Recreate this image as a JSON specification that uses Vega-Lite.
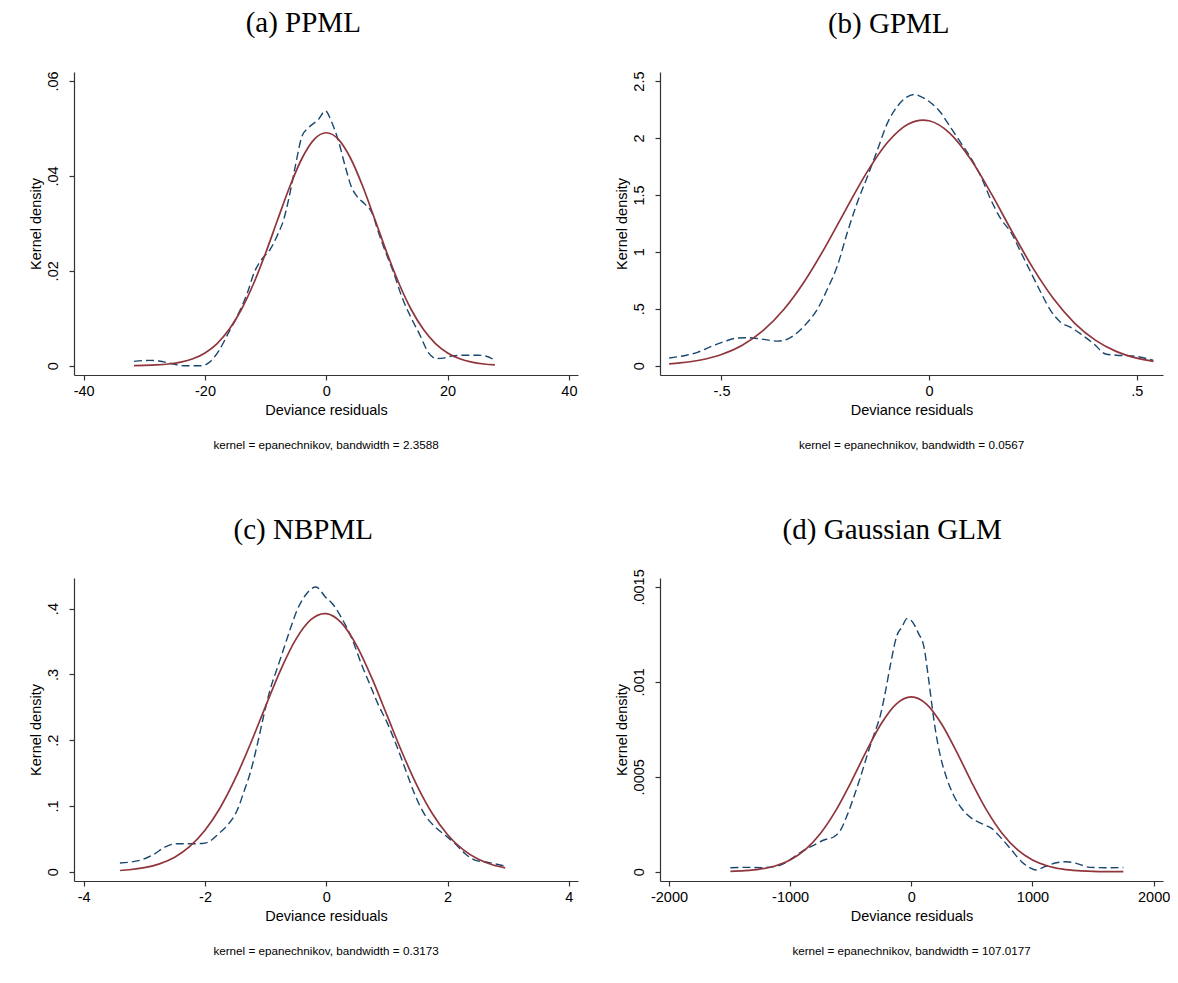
{
  "$schema": "https://vega.github.io/schema/vega-lite/v6.json",
  "background": "white",
  "padding": {"left": 28, "top": 8, "right": 0, "bottom": 0},
  "config": {
    "view": {"stroke": null},
    "axis": {"grid": false, "labelFont": "Liberation Sans", "titleFont": "Liberation Sans", "labelFontSize": 14.5, "titleFontSize": 14.5, "titleFontWeight": "normal", "labelColor": "#000", "titleColor": "#000", "domainColor": "#333", "tickColor": "#333", "tickSize": 5, "domainWidth": 1.2, "tickWidth": 1.2, "labelExpr": "replace(toString(datum.value), '0.', '.')"},
    "axisX": {"labelPadding": 4, "titlePadding": 5.5},
    "axisY": {"labelAngle": 270, "labelPadding": 9, "titlePadding": 1.5},
    "title": {"fontWeight": "normal", "color": "#000"}
  },
  "datasets": {
    "a": [
      {"x":-31.7,"y":0.00091,"s":"k"},{"x":-29.2,"y":0.00112,"s":"k"},{"x":-27.6,"y":0.00098,"s":"k"},{"x":-25.4,"y":0.00042,"s":"k"},{"x":-23.5,"y":0.0,"s":"k"},{"x":-20.4,"y":0.0,"s":"k"},{"x":-19.3,"y":0.0007,"s":"k"},{"x":-17.7,"y":0.0032,"s":"k"},{"x":-16.1,"y":0.007,"s":"k"},{"x":-14.4,"y":0.0112,"s":"k"},{"x":-13.0,"y":0.0154,"s":"k"},{"x":-11.9,"y":0.0196,"s":"k"},{"x":-10.6,"y":0.0225,"s":"k"},{"x":-9.2,"y":0.0246,"s":"k"},{"x":-8.1,"y":0.0274,"s":"k"},{"x":-7.0,"y":0.0309,"s":"k"},{"x":-6.2,"y":0.0351,"s":"k"},{"x":-5.1,"y":0.0421,"s":"k"},{"x":-4.0,"y":0.0484,"s":"k"},{"x":-2.9,"y":0.0502,"s":"k"},{"x":-1.3,"y":0.0519,"s":"k"},{"x":-0.16,"y":0.0537,"s":"k"},{"x":0.93,"y":0.0512,"s":"k"},{"x":2.0,"y":0.0474,"s":"k"},{"x":3.1,"y":0.0421,"s":"k"},{"x":4.2,"y":0.0375,"s":"k"},{"x":5.0,"y":0.0358,"s":"k"},{"x":6.4,"y":0.034,"s":"k"},{"x":7.5,"y":0.0323,"s":"k"},{"x":8.6,"y":0.0281,"s":"k"},{"x":10.0,"y":0.0232,"s":"k"},{"x":11.1,"y":0.0196,"s":"k"},{"x":12.4,"y":0.0147,"s":"k"},{"x":14.1,"y":0.0098,"s":"k"},{"x":15.5,"y":0.0063,"s":"k"},{"x":16.8,"y":0.0028,"s":"k"},{"x":18.2,"y":0.0015,"s":"k"},{"x":19.3,"y":0.0016,"s":"k"},{"x":20.9,"y":0.0021,"s":"k"},{"x":22.8,"y":0.0022,"s":"k"},{"x":25.0,"y":0.0022,"s":"k"},{"x":26.4,"y":0.002,"s":"k"},{"x":27.7,"y":0.0012,"s":"k"},
      {"x":-31.7,"y":0.000033,"s":"n"},{"x":-30,"y":0.000072,"s":"n"},{"x":-28,"y":0.000166,"s":"n"},{"x":-26,"y":0.000363,"s":"n"},{"x":-24,"y":0.000751,"s":"n"},{"x":-22,"y":0.001464,"s":"n"},{"x":-20,"y":0.002693,"s":"n"},{"x":-18,"y":0.004672,"s":"n"},{"x":-16,"y":0.00766,"s":"n"},{"x":-14,"y":0.01184,"s":"n"},{"x":-12,"y":0.01727,"s":"n"},{"x":-10,"y":0.02376,"s":"n"},{"x":-8,"y":0.03085,"s":"n"},{"x":-6,"y":0.03781,"s":"n"},{"x":-4,"y":0.04372,"s":"n"},{"x":-2,"y":0.0477,"s":"n"},{"x":0,"y":0.0491,"s":"n"},{"x":2,"y":0.0477,"s":"n"},{"x":4,"y":0.04372,"s":"n"},{"x":6,"y":0.03781,"s":"n"},{"x":8,"y":0.03085,"s":"n"},{"x":10,"y":0.02376,"s":"n"},{"x":12,"y":0.01727,"s":"n"},{"x":14,"y":0.01184,"s":"n"},{"x":16,"y":0.00766,"s":"n"},{"x":18,"y":0.004672,"s":"n"},{"x":20,"y":0.002693,"s":"n"},{"x":22,"y":0.001464,"s":"n"},{"x":24,"y":0.000751,"s":"n"},{"x":26,"y":0.000363,"s":"n"},{"x":27.8,"y":0.00018,"s":"n"}
    ],
    "b": [
      {"x":-0.626,"y":0.067,"s":"k"},{"x":-0.582,"y":0.094,"s":"k"},{"x":-0.558,"y":0.117,"s":"k"},{"x":-0.526,"y":0.167,"s":"k"},{"x":-0.494,"y":0.211,"s":"k"},{"x":-0.461,"y":0.243,"s":"k"},{"x":-0.437,"y":0.246,"s":"k"},{"x":-0.405,"y":0.234,"s":"k"},{"x":-0.365,"y":0.216,"s":"k"},{"x":-0.341,"y":0.234,"s":"k"},{"x":-0.317,"y":0.292,"s":"k"},{"x":-0.293,"y":0.38,"s":"k"},{"x":-0.269,"y":0.497,"s":"k"},{"x":-0.245,"y":0.673,"s":"k"},{"x":-0.221,"y":0.877,"s":"k"},{"x":-0.197,"y":1.17,"s":"k"},{"x":-0.173,"y":1.433,"s":"k"},{"x":-0.148,"y":1.667,"s":"k"},{"x":-0.124,"y":1.901,"s":"k"},{"x":-0.1,"y":2.135,"s":"k"},{"x":-0.076,"y":2.281,"s":"k"},{"x":-0.056,"y":2.354,"s":"k"},{"x":-0.036,"y":2.383,"s":"k"},{"x":-0.02,"y":2.363,"s":"k"},{"x":0.004,"y":2.31,"s":"k"},{"x":0.028,"y":2.222,"s":"k"},{"x":0.052,"y":2.091,"s":"k"},{"x":0.076,"y":1.959,"s":"k"},{"x":0.1,"y":1.827,"s":"k"},{"x":0.124,"y":1.667,"s":"k"},{"x":0.148,"y":1.462,"s":"k"},{"x":0.173,"y":1.287,"s":"k"},{"x":0.197,"y":1.17,"s":"k"},{"x":0.221,"y":0.994,"s":"k"},{"x":0.245,"y":0.819,"s":"k"},{"x":0.269,"y":0.643,"s":"k"},{"x":0.293,"y":0.482,"s":"k"},{"x":0.317,"y":0.38,"s":"k"},{"x":0.341,"y":0.336,"s":"k"},{"x":0.365,"y":0.278,"s":"k"},{"x":0.397,"y":0.19,"s":"k"},{"x":0.425,"y":0.102,"s":"k"},{"x":0.45,"y":0.092,"s":"k"},{"x":0.49,"y":0.085,"s":"k"},{"x":0.54,"y":0.047,"s":"k"},
      {"x":-0.626,"y":0.0159,"s":"n"},{"x":-0.6,"y":0.024,"s":"n"},{"x":-0.55,"y":0.05,"s":"n"},{"x":-0.5,"y":0.0979,"s":"n"},{"x":-0.45,"y":0.1793,"s":"n"},{"x":-0.4,"y":0.3073,"s":"n"},{"x":-0.35,"y":0.4933,"s":"n"},{"x":-0.3,"y":0.7417,"s":"n"},{"x":-0.25,"y":1.0438,"s":"n"},{"x":-0.2,"y":1.3759,"s":"n"},{"x":-0.15,"y":1.6979,"s":"n"},{"x":-0.1,"y":1.9625,"s":"n"},{"x":-0.05,"y":2.1235,"s":"n"},{"x":-0.015,"y":2.158,"s":"n"},{"x":0.0,"y":2.1516,"s":"n"},{"x":0.05,"y":2.0415,"s":"n"},{"x":0.1,"y":1.8135,"s":"n"},{"x":0.15,"y":1.5087,"s":"n"},{"x":0.2,"y":1.1751,"s":"n"},{"x":0.25,"y":0.8571,"s":"n"},{"x":0.3,"y":0.5855,"s":"n"},{"x":0.35,"y":0.3745,"s":"n"},{"x":0.4,"y":0.2243,"s":"n"},{"x":0.45,"y":0.1257,"s":"n"},{"x":0.5,"y":0.066,"s":"n"},{"x":0.54,"y":0.0376,"s":"n"}
    ],
    "c": [
      {"x":-3.403,"y":0.0132,"s":"k"},{"x":-3.058,"y":0.0177,"s":"k"},{"x":-2.866,"y":0.0253,"s":"k"},{"x":-2.647,"y":0.038,"s":"k"},{"x":-2.482,"y":0.0425,"s":"k"},{"x":-2.263,"y":0.0425,"s":"k"},{"x":-2.044,"y":0.043,"s":"k"},{"x":-1.934,"y":0.0456,"s":"k"},{"x":-1.77,"y":0.0582,"s":"k"},{"x":-1.605,"y":0.0734,"s":"k"},{"x":-1.468,"y":0.0937,"s":"k"},{"x":-1.359,"y":0.1215,"s":"k"},{"x":-1.249,"y":0.1519,"s":"k"},{"x":-1.14,"y":0.1924,"s":"k"},{"x":-1.03,"y":0.238,"s":"k"},{"x":-0.921,"y":0.2785,"s":"k"},{"x":-0.811,"y":0.3089,"s":"k"},{"x":-0.701,"y":0.3392,"s":"k"},{"x":-0.592,"y":0.3696,"s":"k"},{"x":-0.482,"y":0.3975,"s":"k"},{"x":-0.345,"y":0.4203,"s":"k"},{"x":-0.17,"y":0.4329,"s":"k"},{"x":-0.016,"y":0.4177,"s":"k"},{"x":0.121,"y":0.4051,"s":"k"},{"x":0.258,"y":0.3848,"s":"k"},{"x":0.422,"y":0.3544,"s":"k"},{"x":0.586,"y":0.3139,"s":"k"},{"x":0.723,"y":0.2835,"s":"k"},{"x":0.86,"y":0.2532,"s":"k"},{"x":0.997,"y":0.2278,"s":"k"},{"x":1.134,"y":0.1975,"s":"k"},{"x":1.299,"y":0.157,"s":"k"},{"x":1.463,"y":0.1165,"s":"k"},{"x":1.627,"y":0.0861,"s":"k"},{"x":1.792,"y":0.0684,"s":"k"},{"x":1.956,"y":0.0557,"s":"k"},{"x":2.121,"y":0.043,"s":"k"},{"x":2.285,"y":0.0278,"s":"k"},{"x":2.449,"y":0.0177,"s":"k"},{"x":2.668,"y":0.0142,"s":"k"},{"x":2.942,"y":0.0086,"s":"k"},
      {"x":-3.4,"y":0.00186,"s":"n"},{"x":-3.25,"y":0.00296,"s":"n"},{"x":-3.0,"y":0.00614,"s":"n"},{"x":-2.75,"y":0.01201,"s":"n"},{"x":-2.5,"y":0.02213,"s":"n"},{"x":-2.25,"y":0.03846,"s":"n"},{"x":-2.0,"y":0.06302,"s":"n"},{"x":-1.75,"y":0.09732,"s":"n"},{"x":-1.5,"y":0.14173,"s":"n"},{"x":-1.25,"y":0.19455,"s":"n"},{"x":-1.0,"y":0.25184,"s":"n"},{"x":-0.75,"y":0.30737,"s":"n"},{"x":-0.5,"y":0.35359,"s":"n"},{"x":-0.25,"y":0.38353,"s":"n"},{"x":-0.03,"y":0.3924,"s":"n"},{"x":0.0,"y":0.39223,"s":"n"},{"x":0.25,"y":0.37816,"s":"n"},{"x":0.5,"y":0.34374,"s":"n"},{"x":0.75,"y":0.29457,"s":"n"},{"x":1.0,"y":0.23799,"s":"n"},{"x":1.25,"y":0.18129,"s":"n"},{"x":1.5,"y":0.1302,"s":"n"},{"x":1.75,"y":0.08813,"s":"n"},{"x":2.0,"y":0.05627,"s":"n"},{"x":2.25,"y":0.03386,"s":"n"},{"x":2.5,"y":0.01921,"s":"n"},{"x":2.75,"y":0.01027,"s":"n"},{"x":2.95,"y":0.00597,"s":"n"}
    ],
    "d": [
      {"x":-1493,"y":0.0000211,"s":"k"},{"x":-1351,"y":0.0000228,"s":"k"},{"x":-1241,"y":0.0000211,"s":"k"},{"x":-1118,"y":0.0000281,"s":"k"},{"x":-1049,"y":0.0000439,"s":"k"},{"x":-967,"y":0.0000789,"s":"k"},{"x":-885,"y":0.000114,"s":"k"},{"x":-803,"y":0.00014,"s":"k"},{"x":-721,"y":0.000167,"s":"k"},{"x":-638,"y":0.000184,"s":"k"},{"x":-584,"y":0.000219,"s":"k"},{"x":-529,"y":0.000298,"s":"k"},{"x":-474,"y":0.000395,"s":"k"},{"x":-419,"y":0.0005,"s":"k"},{"x":-364,"y":0.000614,"s":"k"},{"x":-310,"y":0.000719,"s":"k"},{"x":-255,"y":0.000825,"s":"k"},{"x":-214,"y":0.000947,"s":"k"},{"x":-173,"y":0.001088,"s":"k"},{"x":-118,"y":0.001246,"s":"k"},{"x":-77,"y":0.001289,"s":"k"},{"x":-36,"y":0.001333,"s":"k"},{"x":19,"y":0.001307,"s":"k"},{"x":60,"y":0.001254,"s":"k"},{"x":101,"y":0.001193,"s":"k"},{"x":142,"y":0.001018,"s":"k"},{"x":170,"y":0.000877,"s":"k"},{"x":197,"y":0.000754,"s":"k"},{"x":238,"y":0.000614,"s":"k"},{"x":293,"y":0.000491,"s":"k"},{"x":348,"y":0.000404,"s":"k"},{"x":416,"y":0.000333,"s":"k"},{"x":499,"y":0.000281,"s":"k"},{"x":595,"y":0.000249,"s":"k"},{"x":663,"y":0.000228,"s":"k"},{"x":745,"y":0.000175,"s":"k"},{"x":827,"y":0.000114,"s":"k"},{"x":910,"y":0.0000526,"s":"k"},{"x":978,"y":0.0000211,"s":"k"},{"x":1027,"y":0.0000088,"s":"k"},{"x":1101,"y":0.0000263,"s":"k"},{"x":1197,"y":0.0000474,"s":"k"},{"x":1279,"y":0.0000526,"s":"k"},{"x":1362,"y":0.0000439,"s":"k"},{"x":1471,"y":0.0000228,"s":"k"},{"x":1608,"y":0.0000211,"s":"k"},{"x":1750,"y":0.000022,"s":"k"},
      {"x":-1493,"y":0.0000022,"s":"n"},{"x":-1375,"y":0.0000056,"s":"n"},{"x":-1250,"y":0.0000135,"s":"n"},{"x":-1125,"y":0.0000301,"s":"n"},{"x":-1000,"y":0.0000616,"s":"n"},{"x":-875,"y":0.0001162,"s":"n"},{"x":-750,"y":0.0002012,"s":"n"},{"x":-625,"y":0.0003202,"s":"n"},{"x":-500,"y":0.0004684,"s":"n"},{"x":-375,"y":0.0006297,"s":"n"},{"x":-250,"y":0.0007778,"s":"n"},{"x":-125,"y":0.0008829,"s":"n"},{"x":0,"y":0.000921,"s":"n"},{"x":125,"y":0.0008829,"s":"n"},{"x":250,"y":0.0007778,"s":"n"},{"x":375,"y":0.0006297,"s":"n"},{"x":500,"y":0.0004684,"s":"n"},{"x":625,"y":0.0003202,"s":"n"},{"x":750,"y":0.0002012,"s":"n"},{"x":875,"y":0.0001162,"s":"n"},{"x":1000,"y":0.0000616,"s":"n"},{"x":1125,"y":0.0000301,"s":"n"},{"x":1250,"y":0.0000135,"s":"n"},{"x":1375,"y":0.0000056,"s":"n"},{"x":1500,"y":0.0000021,"s":"n"},{"x":1625,"y":0.0000007,"s":"n"},{"x":1750,"y":0.0000002,"s":"n"}
    ]
  },
  "spacing": 63,
  "vconcat": [
    {"spacing": 36, "hconcat": [
      {"title": {"text": "(a) PPML", "font": "Liberation Serif", "fontSize": 29, "anchor": "middle", "baseline": "alphabetic", "offset": 10},
       "vconcat": [{
        "width": 504, "height": 303,
        "title": {"text": "kernel = epanechnikov, bandwidth = 2.3588", "orient": "bottom", "frame": "group", "anchor": "middle", "font": "Liberation Sans", "fontSize": 11.7, "baseline": "top", "offset": 23},
        "data": {"name": "a"},
        "encoding": {
          "x": {"field": "x", "type": "quantitative", "title": "Deviance residuals", "scale": {"domain": [-41.6, 41.5], "nice": false, "zero": false}, "axis": {"values": [-40, -20, 0, 20, 40]}},
          "y": {"field": "y", "type": "quantitative", "title": "Kernel density", "scale": {"domain": [-0.00196, 0.0619], "nice": false, "zero": false}, "axis": {"values": [0, 0.02, 0.04, 0.06]}}
        },
        "layer": [
          {"transform": [{"filter": "datum.s == 'k'"}], "mark": {"type": "line", "interpolate": "monotone", "color": "#1a476f", "strokeWidth": 1.4, "strokeDash": [8, 4]}},
          {"transform": [{"filter": "datum.s == 'n'"}], "mark": {"type": "line", "interpolate": "monotone", "color": "#90353b", "strokeWidth": 1.7}}
        ]
      }]},
      {"title": {"text": "(b) GPML", "font": "Liberation Serif", "fontSize": 29, "anchor": "middle", "baseline": "alphabetic", "offset": 9},
       "vconcat": [{
        "width": 503, "height": 303,
        "title": {"text": "kernel = epanechnikov, bandwidth = 0.0567", "orient": "bottom", "frame": "group", "anchor": "middle", "font": "Liberation Sans", "fontSize": 11.7, "baseline": "top", "offset": 23},
        "data": {"name": "b"},
        "encoding": {
          "x": {"field": "x", "type": "quantitative", "title": "Deviance residuals", "scale": {"domain": [-0.648, 0.563], "nice": false, "zero": false}, "axis": {"values": [-0.5, 0, 0.5]}},
          "y": {"field": "y", "type": "quantitative", "title": "Kernel density", "scale": {"domain": [-0.082, 2.58], "nice": false, "zero": false}, "axis": {"values": [0, 0.5, 1, 1.5, 2, 2.5]}}
        },
        "layer": [
          {"transform": [{"filter": "datum.s == 'k'"}], "mark": {"type": "line", "interpolate": "monotone", "color": "#1a476f", "strokeWidth": 1.4, "strokeDash": [8, 4]}},
          {"transform": [{"filter": "datum.s == 'n'"}], "mark": {"type": "line", "interpolate": "monotone", "color": "#90353b", "strokeWidth": 1.7}}
        ]
      }]}
    ]},
    {"spacing": 36, "hconcat": [
      {"title": {"text": "(c) NBPML", "font": "Liberation Serif", "fontSize": 29, "anchor": "middle", "baseline": "alphabetic", "offset": 10},
       "vconcat": [{
        "width": 504, "height": 303,
        "title": {"text": "kernel = epanechnikov, bandwidth = 0.3173", "orient": "bottom", "frame": "group", "anchor": "middle", "font": "Liberation Sans", "fontSize": 11.7, "baseline": "top", "offset": 23},
        "data": {"name": "c"},
        "encoding": {
          "x": {"field": "x", "type": "quantitative", "title": "Deviance residuals", "scale": {"domain": [-4.16, 4.15], "nice": false, "zero": false}, "axis": {"values": [-4, -2, 0, 2, 4]}},
          "y": {"field": "y", "type": "quantitative", "title": "Kernel density", "scale": {"domain": [-0.0141, 0.4465], "nice": false, "zero": false}, "axis": {"values": [0, 0.1, 0.2, 0.3, 0.4]}}
        },
        "layer": [
          {"transform": [{"filter": "datum.s == 'k'"}], "mark": {"type": "line", "interpolate": "monotone", "color": "#1a476f", "strokeWidth": 1.4, "strokeDash": [8, 4]}},
          {"transform": [{"filter": "datum.s == 'n'"}], "mark": {"type": "line", "interpolate": "monotone", "color": "#90353b", "strokeWidth": 1.7}}
        ]
      }]},
      {"title": {"text": "(d) Gaussian GLM", "font": "Liberation Serif", "fontSize": 29, "anchor": "middle", "baseline": "alphabetic", "offset": 1},
       "vconcat": [{
        "width": 503, "height": 303,
        "title": {"text": "kernel = epanechnikov, bandwidth = 107.0177", "orient": "bottom", "frame": "group", "anchor": "middle", "font": "Liberation Sans", "fontSize": 11.7, "baseline": "top", "offset": 23},
        "data": {"name": "d"},
        "encoding": {
          "x": {"field": "x", "type": "quantitative", "title": "Deviance residuals", "scale": {"domain": [-2074, 2077], "nice": false, "zero": false}, "axis": {"values": [-2000, -1000, 0, 1000, 2000]}},
          "y": {"field": "y", "type": "quantitative", "title": "Kernel density", "scale": {"domain": [-0.000049, 0.001547], "nice": false, "zero": false}, "axis": {"values": [0, 0.0005, 0.001, 0.0015]}}
        },
        "layer": [
          {"transform": [{"filter": "datum.s == 'k'"}], "mark": {"type": "line", "interpolate": "monotone", "color": "#1a476f", "strokeWidth": 1.4, "strokeDash": [8, 4]}},
          {"transform": [{"filter": "datum.s == 'n'"}], "mark": {"type": "line", "interpolate": "monotone", "color": "#90353b", "strokeWidth": 1.7}}
        ]
      }]}
    ]}
  ]
}
